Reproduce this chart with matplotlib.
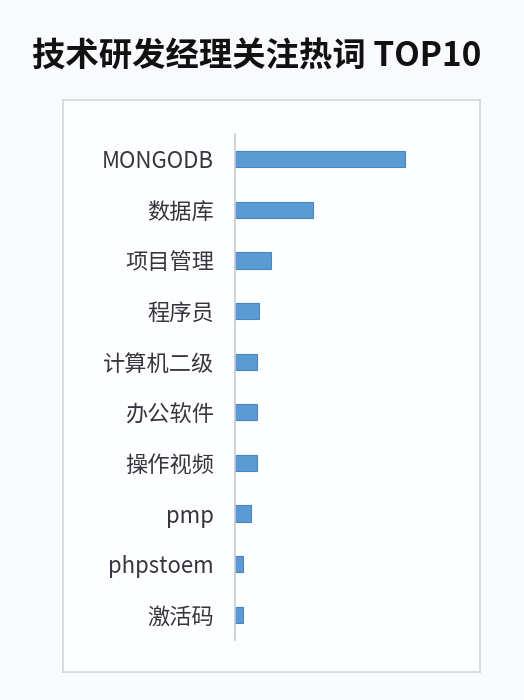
import matplotlib

matplotlib.use("Agg")
import matplotlib.pyplot as plt

plt.rcParams["font.family"] = ["Noto Sans CJK SC", "DejaVu Sans"]

# hot words, top to bottom
words = ["MONGODB", "数据库", "项目管理", "程序员", "计算机二级",
         "办公软件", "操作视频", "pmp", "phpstoem", "激活码"]
# relative search heat
heat = [170, 78, 36, 24, 22, 22, 22, 16, 8, 8]

title = "技术研发经理关注热词 TOP10"
bar_color = "#5b9bd5"
edge_color = "#4a88c4"

fig = plt.figure(figsize=(5.24, 7.00), dpi=100)
fig.patch.set_facecolor("#f8fafd")

# light frame around the chart area (an empty axes drawn underneath)
frame = fig.add_axes([63 / 524, 1 - 672 / 700, (480 - 63) / 524, (672 - 100) / 700])
frame.set_facecolor("#fdfeff")
frame.set_xticks([])
frame.set_yticks([])
for sp in frame.spines.values():
    sp.set_color("#d4d6da")
    sp.set_linewidth(1.2)
frame.set_zorder(0)

fig.text(257 / 524, 1 - 56 / 700, title, ha="center", va="center",
         fontsize=24, fontweight="bold", color="#111111")

ax = fig.add_axes([235 / 524, 1 - 640 / 700, 230 / 524, 506 / 700])
ax.set_zorder(1)
ax.set_facecolor("none")
y = list(range(len(words)))
ax.barh(y, heat, height=0.32, color=bar_color, edgecolor=edge_color, linewidth=0.8)
ax.set_ylim(len(words) - 0.5, -0.5)
ax.set_xlim(0, 230)
ax.set_yticks(y)
ax.set_yticklabels(words, fontsize=16, color="#3a3440")
ax.tick_params(axis="y", length=0, pad=15)
ax.set_xticks([])
for side in ("top", "right", "bottom"):
    ax.spines[side].set_visible(False)
ax.spines["left"].set_color("#c8cacf")
ax.spines["left"].set_linewidth(1.2)

fig.savefig("out.png", dpi=100, facecolor=fig.get_facecolor())
